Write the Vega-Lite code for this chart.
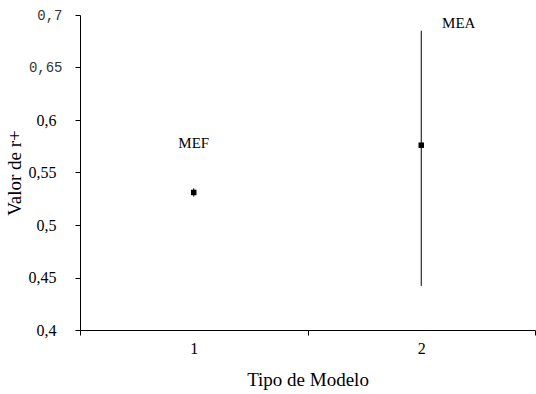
{
  "$schema": "https://vega.github.io/schema/vega-lite/v6.json",
  "width": 455,
  "height": 315,
  "autosize": "none",
  "padding": {"left": 80, "top": 15, "right": 1, "bottom": 64},
  "background": "white",
  "config": {"view": {"stroke": null}},
  "data": {
    "values": [
      {"modelo": 1, "valor": 0.531, "lo": 0.527, "hi": 0.535, "etiqueta": "MEF", "etx": 1.0, "ety": 0.578},
      {"modelo": 2, "valor": 0.576, "lo": 0.442, "hi": 0.685, "etiqueta": "MEA", "etx": 2.165, "ety": 0.692}
    ]
  },
  "layer": [
    {
      "mark": {"type": "rule", "color": "black", "strokeWidth": 1},
      "encoding": {
        "x": {
          "field": "modelo", "type": "quantitative",
          "scale": {"domain": [0.5, 2.5], "nice": false, "zero": false},
          "axis": {
            "title": "Tipo de Modelo",
            "values": [0.5, 1, 1.5, 2, 2.5],
            "labelExpr": "datum.value % 1 == 0 ? format(datum.value, 'd') : ''",
            "tickOpacity": {"condition": {"test": "datum.value % 1 == 0", "value": 0}, "value": 1},
            "grid": false,
            "domainColor": "black",
            "tickColor": "black",
            "tickSize": 5,
            "labelFont": "Times New Roman, Liberation Serif, serif",
            "labelFontSize": 16,
            "labelColor": "black",
            "labelPadding": 5,
            "labelOverlap": false,
            "labelFlush": false,
            "titleFont": "Times New Roman, Liberation Serif, serif",
            "titleFontSize": 19,
            "titleFontWeight": "normal",
            "titleColor": "black",
            "titlePadding": 14
          }
        },
        "y": {
          "field": "lo", "type": "quantitative",
          "scale": {"domain": [0.4, 0.7], "nice": false, "zero": false},
          "axis": {
            "title": "Valor de r+",
            "values": [0.4, 0.45, 0.5, 0.55, 0.6, 0.65, 0.7],
            "labelExpr": "replace(format(datum.value, '.2~f'), '.', ',')",
            "grid": false,
            "domainColor": "black",
            "tickColor": "black",
            "tickSize": 5,
            "labelFont": {"condition": {"test": "datum.value >= 0.649", "value": "Courier New, Liberation Mono, monospace"}, "value": "Times New Roman, Liberation Serif, serif"},
            "labelFontSize": {"condition": {"test": "datum.value >= 0.649", "value": 14}, "value": 16},
            "labelColor": {"condition": {"test": "datum.value >= 0.649", "value": "#333333"}, "value": "black"},
            "labelPadding": {"condition": {"test": "datum.value >= 0.649", "value": 13}, "value": 19},
            "labelOverlap": false,
            "labelFlush": false,
            "titleFont": "Times New Roman, Liberation Serif, serif",
            "titleFontSize": 19,
            "titleFontWeight": "normal",
            "titleColor": "black",
            "titlePadding": 4
          }
        },
        "y2": {"field": "hi"}
      }
    },
    {
      "mark": {"type": "point", "shape": "square", "filled": true, "color": "black", "size": 30, "opacity": 1},
      "encoding": {
        "x": {"field": "modelo", "type": "quantitative"},
        "y": {"field": "valor", "type": "quantitative"}
      }
    },
    {
      "mark": {"type": "text", "font": "Times New Roman, Liberation Serif, serif", "fontSize": 15, "color": "black", "align": "center", "baseline": "middle"},
      "encoding": {
        "x": {"field": "etx", "type": "quantitative"},
        "y": {"field": "ety", "type": "quantitative"},
        "text": {"field": "etiqueta"}
      }
    }
  ]
}
